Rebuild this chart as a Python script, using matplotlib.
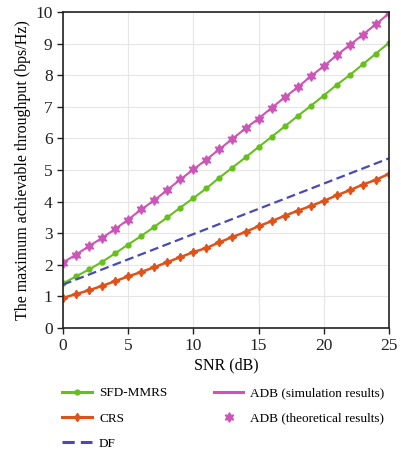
import numpy as np
import matplotlib.pyplot as plt

plt.rcParams['font.family'] = ['Liberation Serif', 'DejaVu Serif']

# ── Data ──────────────────────────────────────────
snr = list(range(0, 26))

sfd_mmrs = [1.41, 1.63, 1.85, 2.09, 2.36, 2.64, 2.91, 3.20, 3.50, 3.81,
            4.11, 4.42, 4.76, 5.08, 5.40, 5.73, 6.05, 6.38, 6.71, 7.03,
            7.36, 7.70, 8.01, 8.35, 8.69, 9.03]
crs = [0.95, 1.07, 1.19, 1.33, 1.48, 1.63, 1.77, 1.92, 2.08, 2.24,
       2.40, 2.53, 2.71, 2.88, 3.04, 3.22, 3.38, 3.55, 3.71, 3.86,
       4.02, 4.20, 4.36, 4.54, 4.69, 4.88]
df = [1.37, 1.53, 1.69, 1.85, 2.01, 2.17, 2.33, 2.49, 2.65, 2.81,
      2.97, 3.13, 3.29, 3.45, 3.61, 3.77, 3.93, 4.09, 4.25, 4.41,
      4.57, 4.73, 4.89, 5.05, 5.21, 5.37]
adb = [2.07, 2.32, 2.59, 2.85, 3.13, 3.43, 3.75, 4.04, 4.37, 4.70,
       5.02, 5.33, 5.66, 5.99, 6.32, 6.63, 6.97, 7.30, 7.62, 7.97,
       8.29, 8.64, 8.96, 9.29, 9.62, 9.96]

GREEN = "#66c01c"
ORANGE = "#df5219"
MAGENTA = "#cc55b8"
BLUE = "#4a4ab0"

# ── Plot ──────────────────────────────────────────
fig = plt.figure(figsize=(4.01, 4.51), dpi=100)
ax = fig.add_axes([0.157, 0.273, 0.813, 0.700])

ax.plot(snr, sfd_mmrs, color=GREEN, lw=1.5, marker='o', ms=3.5,
        label="SFD-MMRS")
ax.plot(snr, crs, color=ORANGE, lw=1.8, marker=(4, 1, 0), ms=6,
        label="CRS")
ax.plot(snr, df, color=BLUE, lw=1.6, ls=(0, (4, 2)), label="DF")
ax.plot(snr, adb, color=MAGENTA, lw=1.5, label="ADB (simulation results)")
ax.plot(snr, adb, color=MAGENTA, ls='none', marker=(6, 1, 0), ms=7,
        label="ADB (theoretical results)")

ax.set_xlim(0, 25)
ax.set_ylim(0, 10)
ax.set_xticks([0, 5, 10, 15, 20, 25])
ax.set_yticks(range(0, 11))
ax.grid(True, color="#e6e6e6", lw=0.8)
ax.set_axisbelow(True)
for sp in ax.spines.values():
    sp.set_color("#222222")
    sp.set_linewidth(1.2)
ax.tick_params(labelsize=12.5, length=4, width=1.0, colors="#222222")

ax.set_xlabel("SNR (dB)", fontsize=11.5, labelpad=2)
ax.set_ylabel("The maximum achievable throughput (bps/Hz)", fontsize=11.5, labelpad=3)

leg = fig.legend(loc="upper left", bbox_to_anchor=(0.155, 0.142), ncol=2,
                 frameon=False, fontsize=9.5, handlelength=2.27, handletextpad=0.53,
                 columnspacing=3.5, labelspacing=1.0, borderaxespad=0,
                 borderpad=0)
for h in leg.legend_handles:
    if h.get_linestyle() not in ("None", "none", ""):
        h.set_linewidth(2.2)

plt.savefig("out.png", dpi=100)
